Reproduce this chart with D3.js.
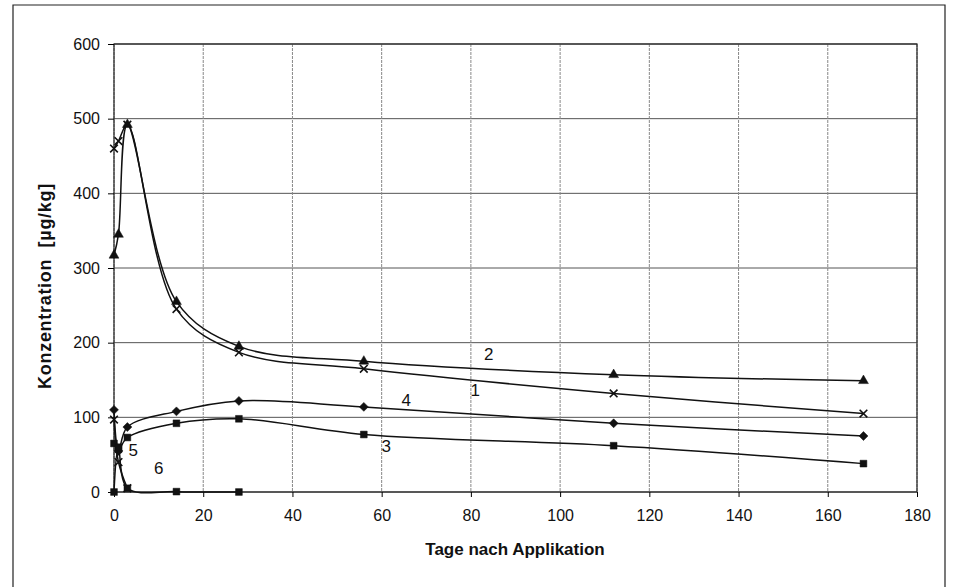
<!DOCTYPE html>
<html>
<head>
<meta charset="utf-8">
<script src="https://cdn.jsdelivr.net/npm/d3@7"></script>
<style>
  body { margin: 0; background: #fff; }
  svg text { font-family: "Liberation Sans", Arial, sans-serif; fill: #111; }
  .tick text { font-size: 16px; }
</style>
</head>
<body>
<div id="chart"></div>
<script>
// sampling days after application
const days = [0, 1, 3, 14, 28, 56, 112, 168];

// concentration [µg/kg]
const series1 = [460, 470, 492, 245, 187, 165, 132, 105];
const series2 = [317, 345, 492, 255, 195, 175, 157, 149];
const series3 = [65, 57, 73, 92, 98, 77, 62, 38];
const series4 = [110, 55, 87, 108, 122, 114, 92, 75];
const series5Days = [0, 1, 3];
const series5 = [97, 40, 5];
const series6Days = [0, 1, 3, 14, 28];
const series6 = [0, 60, 5, 0.5, 0];

const xTicks = [0, 20, 40, 60, 80, 100, 120, 140, 160, 180];
const yTicks = [0, 100, 200, 300, 400, 500, 600];

// curve numbers written next to the lines (day, value)
const labelNames = ['2', '1', '4', '3', '5', '6'];
const labelDays = [84, 81, 65.5, 61, 4.3, 10];
const labelValues = [183, 134, 121, 59, 54, 30];

const W = 955, H = 587;
const margin = { top: 44, right: 38, bottom: 95, left: 114 };
const width = W - margin.left - margin.right;
const height = H - margin.top - margin.bottom;

const x = d3.scaleLinear().domain([0, 180]).range([0, width]);
const y = d3.scaleLinear().domain([0, 600]).range([height, 0]);

const svg = d3.select('#chart').append('svg')
  .attr('width', W).attr('height', H);

// outer frame of the figure
svg.append('path')
  .attr('d', `M13,${H + 2} L13,5 L945,5 L945,${H + 2}`)
  .attr('fill', 'none').attr('stroke', '#222').attr('stroke-width', 1.2);

const g = svg.append('g').attr('transform', `translate(${margin.left},${margin.top})`);

// grid
g.append('g').selectAll('line').data(yTicks).enter().append('line')
  .attr('x1', 0).attr('x2', width)
  .attr('y1', d => y(d)).attr('y2', d => y(d))
  .attr('stroke', '#555').attr('stroke-width', 1);
g.append('g').selectAll('line').data(xTicks).enter().append('line')
  .attr('y1', 0).attr('y2', height)
  .attr('x1', d => x(d)).attr('x2', d => x(d))
  .attr('stroke', '#888').attr('stroke-width', 1).attr('stroke-dasharray', '3,1');

g.append('rect').attr('width', width).attr('height', height)
  .attr('fill', 'none').attr('stroke', '#222').attr('stroke-width', 1.2);

g.append('g').attr('transform', `translate(0,${height})`)
  .call(d3.axisBottom(x).tickValues(xTicks).tickSize(5).tickPadding(13))
  .call(a => a.attr('font-family', null).attr('font-size', null))
  .call(a => a.select('.domain').remove());
g.append('g')
  .call(d3.axisLeft(y).tickValues(yTicks).tickSize(6).tickPadding(8))
  .call(a => a.attr('font-family', null).attr('font-size', null))
  .call(a => a.select('.domain').remove());

svg.append('text')
  .attr('x', 515).attr('y', 555)
  .attr('text-anchor', 'middle').attr('font-size', 17).attr('font-weight', 'bold')
  .text('Tage nach Applikation');
svg.append('text')
  .attr('transform', `translate(51,${margin.top + height / 2 + 18}) rotate(-90)`)
  .attr('text-anchor', 'middle').attr('font-size', 18).attr('font-weight', 'bold')
  .attr('letter-spacing', 0.7)
  .style('white-space', 'pre')
  .text('Konzentration  [µg/kg]');

const line = d3.line()
  .x(d => x(d[0])).y(d => y(d[1]))
  .curve(d3.curveCatmullRom.alpha(0.5));

const zip = (ds, vs) => ds.map((d, i) => [d, vs[i]]);

const data = [
  { pts: zip(days, series1), marker: 'cross' },
  { pts: zip(days, series2), marker: 'triangle' },
  { pts: zip(days, series3), marker: 'square' },
  { pts: zip(days, series4), marker: 'diamond' },
  { pts: zip(series5Days, series5), marker: 'cross' },
  { pts: zip(series6Days, series6), marker: 'square' }
];

const symbols = {
  triangle: d3.symbol().type(d3.symbolTriangle).size(42),
  square: d3.symbol().type(d3.symbolSquare).size(46),
  diamond: d3.symbol().type(d3.symbolSquare).size(40),
  cross: d3.symbol().type(d3.symbolX).size(40)
};

const s = g.selectAll('.series').data(data).enter().append('g').attr('class', 'series');

s.append('path')
  .attr('d', d => line(d.pts))
  .attr('fill', 'none').attr('stroke', '#111').attr('stroke-width', 1.5);

s.selectAll('path.m').data(d => d.pts.map(p => ({ p, marker: d.marker }))).enter()
  .append('path').attr('class', 'm')
  .attr('transform', d => `translate(${x(d.p[0])},${y(d.p[1])})` + (d.marker === 'diamond' ? ' rotate(45)' : ''))
  .attr('d', d => symbols[d.marker]())
  .attr('fill', '#111')
  .attr('stroke', '#111')
  .attr('stroke-width', d => d.marker === 'cross' ? 1.6 : 0.5);

g.selectAll('.lbl').data(labelNames).enter().append('text')
  .attr('class', 'lbl')
  .attr('x', (d, i) => x(labelDays[i])).attr('y', (d, i) => y(labelValues[i]))
  .attr('text-anchor', 'middle').attr('dominant-baseline', 'middle')
  .attr('font-size', 17)
  .text(d => d);
</script>
</body>
</html>
